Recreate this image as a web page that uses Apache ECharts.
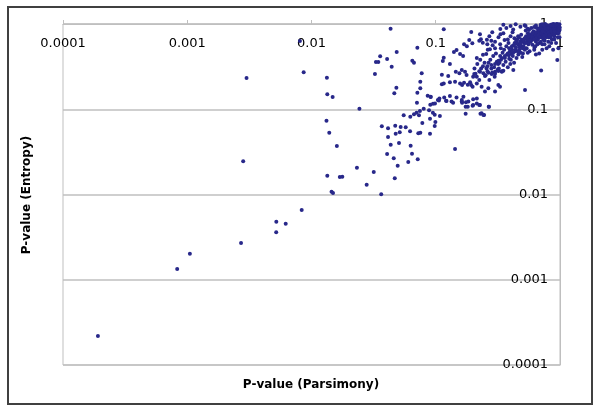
<!DOCTYPE html>
<html>
<head>
<meta charset="utf-8">
<script src="https://cdn.jsdelivr.net/npm/echarts@6/dist/echarts.min.js"></script>
<style>
html,body{margin:0;padding:0;background:#fff;}
#chart{width:600px;height:409px;}
</style>
</head>
<body>
<div id="chart"></div>
<script>
const xTitle = 'P-value (Parsimony)';
const yTitle = 'P-value (Entropy)';
const xTickLabels = ['0.0001', '0.001', '0.01', '0.1', '1'];
const yTickLabels = ['0.0001', '0.001', '0.01', '0.1', '1'];

// [Parsimony p-value, Entropy p-value]
const tailPoints = [
  [0.000191,0.000219],[0.00083,0.00134],[0.00105,0.00202],[0.00271,0.0027],[0.0052,0.0036],
  [0.00521,0.0048],[0.0062,0.00454],[0.00834,0.00658],[0.00282,0.0245],[0.0030,0.233],
  [0.00865,0.271],[0.00807,0.63],[0.0133,0.234],[0.0134,0.150],[0.0148,0.139],[0.0243,0.1016],
  [0.0324,0.259],[0.0330,0.358],[0.0345,0.358],[0.0357,0.418],[0.0406,0.389],[0.0433,0.881],
  [0.0132,0.0734],[0.0139,0.0531],[0.0160,0.0371],[0.0134,0.0166],[0.0169,0.0160],[0.0177,0.0162],
  [0.0232,0.0206],[0.0278,0.0130],[0.0317,0.0184],[0.0364,0.0101],[0.0145,0.0108],[0.0149,0.0104],
  [0.0368,0.063],[0.0413,0.0597],[0.0413,0.0472],[0.0406,0.0299],[0.0442,0.316]
];
const midPoints = [
  [0.0464,0.154],[0.0482,0.179],[0.0711,0.156],[0.0751,0.176],[0.0751,0.210],[0.0861,0.144],
  [0.0910,0.139],[0.0706,0.119],[0.0746,0.0953],[0.080,0.1014],[0.0883,0.0972],[0.0904,0.113],
  [0.095,0.116],[0.0986,0.117],[0.0552,0.0849],[0.0624,0.0818],[0.0668,0.0873],[0.0733,0.0849],
  [0.0981,0.0863],[0.0899,0.0775],[0.078,0.069],[0.0993,0.0708],[0.0981,0.0636],[0.0724,0.0522],
  [0.0751,0.0531],[0.0899,0.0517],[0.0472,0.0641],[0.0522,0.0619],[0.0573,0.0614],[0.0621,0.0551],
  [0.0476,0.0517],[0.0513,0.0537],[0.0434,0.0384],[0.0506,0.0402],[0.0628,0.0374],[0.0459,0.0266],
  [0.0644,0.0301],[0.0716,0.0259],[0.0601,0.024],[0.0494,0.0218],[0.0468,0.0155],[0.0485,0.469],
  [0.0711,0.527],[0.0648,0.371],[0.0668,0.352],[0.0771,0.264],[0.0701,0.0912],[0.0948,0.0912]
];
const bandPoints = [
  [0.106,0.127],[0.122,0.125],[0.138,0.119],[0.162,0.123],[0.163,0.119],[0.174,0.107],[0.181,0.107],
  [0.198,0.110],[0.224,0.112],[0.267,0.107],[0.174,0.0887],[0.229,0.0887],[0.245,0.0857],[0.108,0.0834],
  [0.143,0.0342],[0.116,0.867],[0.193,0.805],[0.227,0.757],[0.285,0.80],[0.331,0.874],[0.332,0.757],
  [0.169,0.578],[0.147,0.496],[0.140,0.47],[0.157,0.445],[0.166,0.421],[0.178,0.548],[0.186,0.649],
  [0.197,0.594],[0.224,0.637],[0.239,0.604],[0.231,0.662],[0.258,0.655],[0.280,0.637],[0.287,0.562],
  [0.273,0.505],[0.255,0.445],[0.240,0.437],[0.116,0.403],[0.114,0.368],[0.130,0.340],[0.523,0.168],
  [0.951,0.378],[0.705,0.285],
  [0.112,0.254],[0.126,0.245],[0.145,0.276],[0.155,0.264],[0.162,0.288],[0.172,0.276],[0.177,0.252],
  [0.204,0.259],[0.214,0.241],[0.112,0.196],[0.116,0.201],[0.130,0.207],[0.143,0.210],[0.157,0.201],
  [0.163,0.192],[0.169,0.205],[0.181,0.194],[0.189,0.207],[0.198,0.184],[0.214,0.201],[0.224,0.220],
  [0.091,0.140],[0.104,0.128],[0.107,0.134],[0.117,0.137],[0.121,0.126],[0.130,0.143],[0.134,0.123],
  [0.147,0.137],[0.162,0.128],[0.167,0.140],[0.175,0.121],[0.183,0.123],[0.20,0.131],[0.214,0.117],
  [0.200,0.241],[0.227,0.276],[0.242,0.264],[0.249,0.245],[0.265,0.268],[0.282,0.259],[0.30,0.276],
  [0.319,0.281],[0.34,0.276],[0.35,0.283],[0.421,0.288],[0.193,0.192],[0.234,0.184],[0.249,0.161],
  [0.265,0.176],[0.30,0.161],[0.319,0.192],[0.329,0.184],[0.214,0.134],[0.20,0.112],[0.227,0.112],
  [0.268,0.107],[0.234,0.0897],[0.242,0.0857]
];
const corePoints = [
  [0.205,0.3],[0.209,0.26],[0.216,0.34],[0.224,0.28],[0.228,0.38],[0.232,0.3],[0.24,0.32],[0.247,0.35],[0.214,0.4],
  [0.252,0.25],[0.256,0.3],[0.261,0.28],[0.266,0.35],[0.27,0.22],[0.275,0.38],[0.28,0.33],[0.285,0.27],
  [0.29,0.42],[0.295,0.31],[0.3,0.26],[0.305,0.45],[0.31,0.36],[0.315,0.29],[0.262,0.5],[0.298,0.24],[0.318,0.34],
  [0.322,0.3],[0.326,0.35],[0.33,0.42],[0.335,0.38],[0.34,0.28],[0.345,0.46],[0.35,0.33],[0.355,0.5],
  [0.36,0.4],[0.365,0.36],[0.37,0.55],[0.375,0.44],[0.38,0.31],[0.385,0.6],[0.39,0.39],[0.395,0.48],
  [0.398,0.34],[0.334,0.52],[0.358,0.65],[0.388,0.43],
  [0.402,0.38],[0.407,0.45],[0.412,0.5],[0.417,0.42],[0.422,0.56],[0.427,0.35],[0.432,0.6],[0.437,0.48],
  [0.442,0.53],[0.447,0.4],[0.452,0.66],[0.457,0.58],[0.462,0.44],[0.467,0.7],[0.472,0.5],[0.477,0.62],
  [0.482,0.46],[0.487,0.75],[0.492,0.54],[0.497,0.41],[0.415,0.8],[0.445,0.64],[0.475,0.57],
  [0.503,0.45],[0.509,0.55],[0.515,0.6],[0.521,0.5],[0.527,0.67],[0.533,0.72],[0.539,0.52],[0.545,0.63],
  [0.551,0.78],[0.557,0.58],[0.563,0.85],[0.569,0.48],[0.575,0.7],[0.581,0.62],[0.587,0.9],[0.593,0.65],
  [0.599,0.57],[0.605,0.75],[0.611,0.82],[0.617,0.68],[0.623,0.53],[0.528,0.95],[0.56,0.6],[0.6,0.73],
  [0.632,0.55],[0.64,0.62],[0.648,0.7],[0.656,0.8],[0.664,0.66],[0.672,0.88],[0.68,0.6],[0.688,0.75],
  [0.696,0.95],[0.704,0.72],[0.712,0.84],[0.72,0.58],[0.728,0.68],[0.736,0.9],[0.744,0.78],[0.752,0.64],
  [0.76,1.0],[0.768,0.85],[0.776,0.7],[0.784,0.92],[0.792,0.82],[0.66,0.74],[0.7,0.98],[0.74,0.65],[0.78,0.87],
  [0.805,0.62],[0.812,0.7],[0.82,0.78],[0.828,0.85],[0.836,0.92],[0.844,0.98],[0.852,0.75],[0.86,0.88],
  [0.868,0.95],[0.876,0.8],[0.884,0.9],[0.892,1.0],[0.9,0.72],[0.908,0.86],[0.916,0.94],[0.924,0.83],
  [0.932,0.97],[0.94,0.9],[0.948,0.78],[0.956,0.99],[0.964,0.88],[0.972,0.93],[0.98,0.96],[0.988,0.84],[0.995,0.91],
  [0.55,0.88],[0.62,0.92],[0.67,0.82],[0.71,0.9],[0.75,0.94],[0.79,0.97],[0.83,0.93],[0.87,0.99],
  [0.91,0.96],[0.95,0.93],[0.99,0.99],[0.97,0.87],[0.93,0.8],[0.89,0.84],[0.85,0.9],[0.81,0.94],
  [0.77,0.8],[0.73,0.86],[0.69,0.8],[0.65,0.9],[0.61,0.7],[0.57,0.76],[0.53,0.84],[0.49,0.66],
  [0.46,0.72],[0.43,0.68],[0.64,0.96],[0.72,0.99],[0.86,0.96],[0.94,1.0],[0.98,0.82],[0.9,0.76],
  [0.84,0.7],[0.78,0.74],[0.7,0.62],[0.58,0.66],[0.54,0.7],[0.5,0.62],[0.47,0.54],[0.44,0.5],
  [0.35,0.98],[0.4,0.95],[0.44,0.99],[0.48,0.93],[0.52,0.97],
  [0.3,0.62],[0.32,0.7],[0.35,0.78],[0.38,0.66],[0.27,0.72],[0.42,0.86],[0.37,0.9],[0.3,0.52],
  [0.33,0.58],[0.26,0.58],[0.4,0.72],
  [0.45,0.6],[0.48,0.58],[0.51,0.64],[0.53,0.6],[0.55,0.68],[0.57,0.64],[0.59,0.72],[0.62,0.66],
  [0.63,0.76],[0.65,0.7],[0.67,0.74],[0.69,0.7],[0.71,0.78],[0.73,0.74],[0.75,0.82],[0.77,0.76],
  [0.79,0.86],[0.81,0.8],[0.83,0.88],[0.85,0.82],[0.87,0.92],[0.89,0.88],[0.91,0.9],[0.93,0.94],
  [0.96,0.96],[0.98,0.92],[0.92,0.98],[0.88,0.96],[0.84,0.96],[0.8,0.9],[0.76,0.88],[0.72,0.82],
  [0.68,0.86],[0.64,0.8],[0.6,0.78],[0.56,0.72],[0.52,0.68],[0.5,0.52],[0.46,0.48],[0.42,0.46],
  [0.38,0.45],[0.36,0.42],[0.34,0.4],[0.32,0.37],[0.3,0.34],[0.28,0.3],[0.26,0.32],[0.41,0.55],
  [0.39,0.52],[0.43,0.58],[0.66,0.58],[0.74,0.72],[0.82,0.74],[0.9,0.82],[0.97,0.78],[0.99,0.86],
  [0.96,0.7],[0.86,0.66],[0.62,0.5],[0.55,0.46],
  [0.82,0.55],[0.88,0.5],[0.93,0.6],[0.97,0.52],[0.85,0.6],[0.78,0.52],[0.72,0.5],[0.68,0.45],
  [0.9,0.66],[0.99,0.7],[0.75,0.58],[0.64,0.44]
];

const allPoints = tailPoints.concat(midPoints, bandPoints, corePoints);
const fontFam = 'DejaVu Sans, Verdana, sans-serif';
const gridColor = '#bfbfbf';

const chart = echarts.init(document.getElementById('chart'), null, {renderer: 'canvas'});
chart.setOption({
  animation: false,
  backgroundColor: '#ffffff',
  grid: {left: 63, top: 24, right: 40, bottom: 44, show: true, borderColor: gridColor, borderWidth: 1, backgroundColor: 'transparent'},
  xAxis: {
    type: 'log', logBase: 10, min: 0.0001, max: 1, position: 'top',
    axisLine: {show: true, lineStyle: {color: gridColor, width: 1}},
    axisTick: {show: true, inside: false, length: 4, lineStyle: {color: gridColor}},
    axisLabel: {
      inside: true, margin: 13, fontSize: 13, color: '#000', fontFamily: fontFam,
      showMinLabel: true, showMaxLabel: true,
      formatter: v => xTickLabels[Math.round(Math.log10(v)) + 4]
    },
    splitLine: {show: false},
    minorTick: {show: false}
  },
  yAxis: {
    type: 'log', logBase: 10, min: 0.0001, max: 1, position: 'right',
    axisLine: {show: true, lineStyle: {color: gridColor, width: 1}},
    axisTick: {show: false},
    axisLabel: {
      inside: true, margin: 12, fontSize: 13, color: '#000', fontFamily: fontFam,
      showMinLabel: true, showMaxLabel: true,
      formatter: v => yTickLabels[Math.round(Math.log10(v)) + 4]
    },
    splitLine: {show: true, lineStyle: {color: gridColor, width: 1.5}}
  },
  series: [{
    type: 'scatter',
    data: allPoints,
    symbol: 'circle',
    symbolSize: 4,
    itemStyle: {color: '#28288a', opacity: 1},
    clip: false
  }],
  graphic: [
    {type: 'rect', shape: {x: 8, y: 7, width: 584, height: 397}, style: {fill: 'none', stroke: '#404040', lineWidth: 2}, z: 100},
    {type: 'text', x: 311, y: 385, style: {text: xTitle, font: 'bold 12px ' + fontFam, fill: '#000', textAlign: 'center', textVerticalAlign: 'middle'}},
    {type: 'text', x: 27, y: 195, rotation: Math.PI / 2, style: {text: yTitle, font: 'bold 12px ' + fontFam, fill: '#000', textAlign: 'center', textVerticalAlign: 'middle'}}
  ]
});
</script>
</body>
</html>
